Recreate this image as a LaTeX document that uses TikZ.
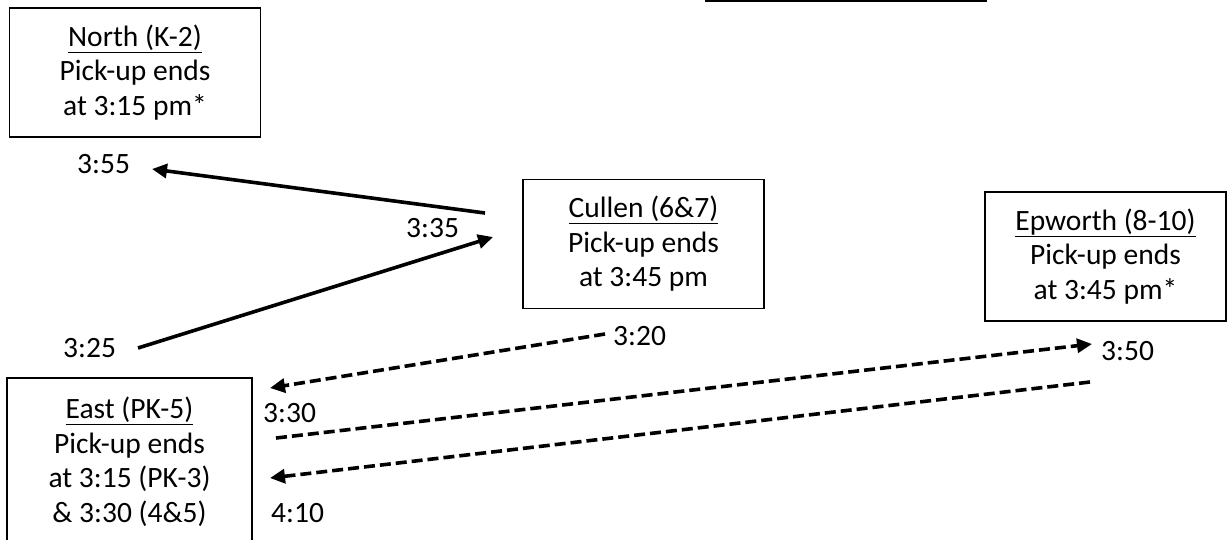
\documentclass[tikz,border=0pt]{standalone}
\usepackage{fontspec}
\setmainfont{Carlito}
\usetikzlibrary{arrows.meta,positioning}

\begin{document}
\begin{tikzpicture}[x=1pt, y=-1pt,
    box/.style={draw, line width=1.6pt, minimum width=241pt, minimum height=129pt, align=center, inner sep=0pt, font=\fontsize{29.5}{34.5}\selectfont},
    time/.style={anchor=base west, inner sep=0pt, font=\fontsize{29.5}{34.5}\selectfont},
    trip/.style={line width=3.6pt, -{Triangle[length=15pt,width=14pt]}},
    late/.style={trip, dash pattern=on 11pt off 5pt}]
  \useasboundingbox (0,0) rectangle (1228,539);
  \clip (0,0) rectangle (1228,539);

  % schools
  \node[draw, line width=1.6pt, minimum width=280pt, minimum height=60pt, anchor=south west] (key) at (705,2) {};
  \node[box, minimum width=251pt] (north) at (135,72.5) {\underline{North (K-2)}\\Pick-up ends\\at 3:15 pm*};
  \node[box] (cullen) at (643.5,244) {\underline{Cullen (6\&7)}\\Pick-up ends\\at 3:45 pm};
  \node[box] (epworth) at (1105.5,256.5) {\underline{Epworth (8-10)}\\Pick-up ends\\at 3:45 pm*};
  \node[box, minimum width=245pt, minimum height=168pt, anchor=north] (east) at (129.5,377) {\underline{East (PK-5)}\\Pick-up ends\\at 3:15 (PK-3)\\\& 3:30 (4\&5)};

  % times
  \node[time] (t355) at (77,173) {3:55};
  \node[time] (t335) at (406,237) {3:35};
  \node[time] (t325) at (63,357) {3:25};
  \node[time] (t320) at (613,345) {3:20};
  \node[time] (t330) at (263,422) {3:30};
  \node[time] (t350) at (1101,360) {3:50};
  \node[time] (t410) at (271,522) {4:10};

  % line ends
  \coordinate (a1) at (485,213);
  \coordinate (a2) at (152,169);
  \coordinate (b1) at (138,348);
  \coordinate (b2) at (493,237);
  \coordinate (c1) at (605,334);
  \coordinate (c2) at (270,388);
  \coordinate (d1) at (276,438);
  \coordinate (d2) at (1092,344);
  \coordinate (e1) at (1090,382);
  \coordinate (e2) at (270,478);

  \draw[trip] (a1) -- (a2);
  \draw[trip] (b1) -- (b2);
  \draw[late] (c1) -- (c2);
  \draw[late] (d1) -- (d2);
  \draw[late] (e1) -- (e2);
\end{tikzpicture}
\end{document}
